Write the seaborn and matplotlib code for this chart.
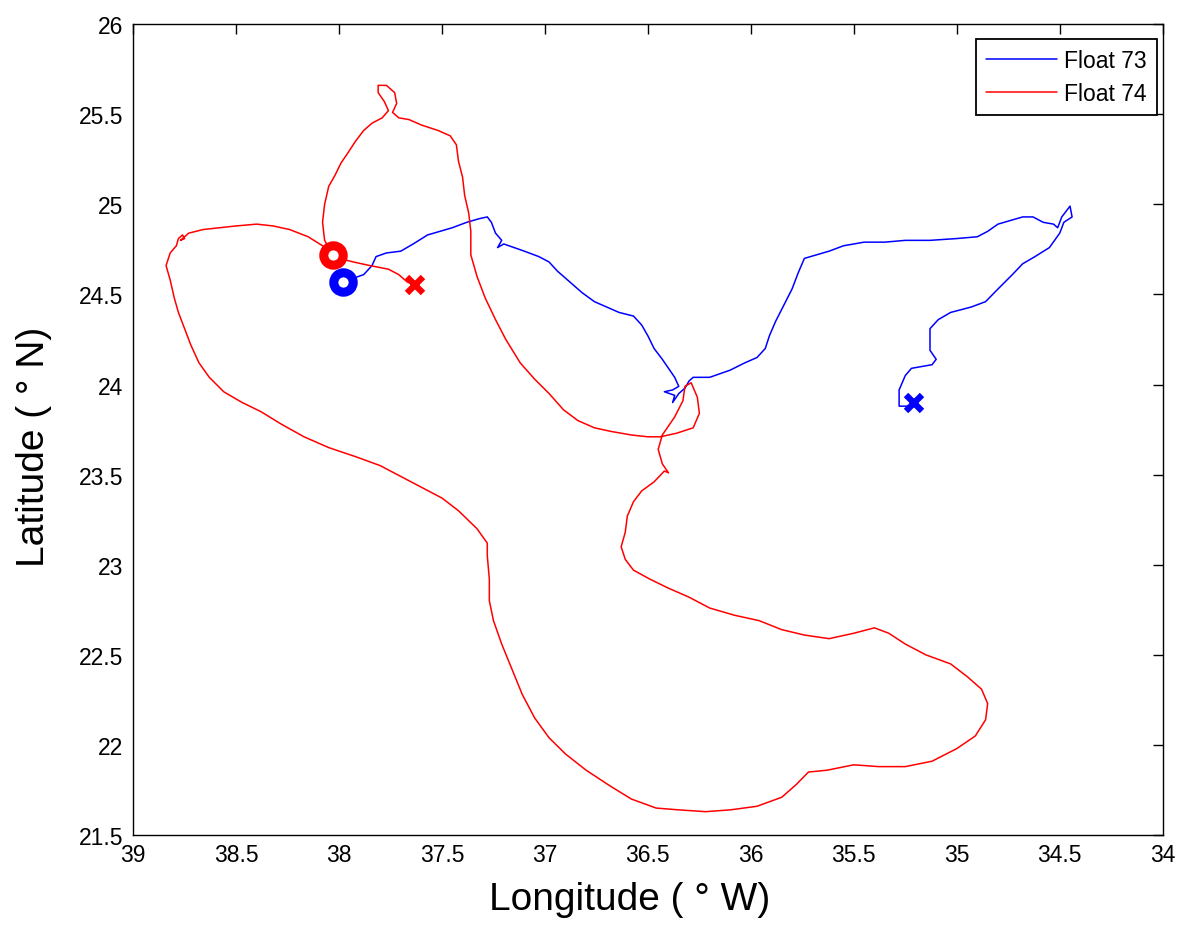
import numpy as np
import pandas as pd
import matplotlib
matplotlib.use("Agg")
import matplotlib.pyplot as plt
import seaborn as sns
from matplotlib.ticker import FuncFormatter

# ---------------- data ----------------
f73_lon = [37.98, 37.93, 37.88, 37.84, 37.82, 37.77, 37.70, 37.64, 37.57, 37.51, 37.45, 37.38,
           37.32, 37.28, 37.26, 37.24, 37.21, 37.23, 37.20, 37.15, 37.10, 37.03, 36.98, 36.94,
           36.88, 36.82, 36.76, 36.70, 36.64, 36.57, 36.53, 36.50, 36.47, 36.43, 36.40, 36.37,
           36.35, 36.38, 36.42, 36.37, 36.38, 36.35, 36.32, 36.30, 36.28, 36.20, 36.15, 36.10,
           36.03, 35.97, 35.93, 35.91, 35.88, 35.84, 35.80, 35.77, 35.74, 35.68, 35.62, 35.55,
           35.45, 35.35, 35.25, 35.13, 35.00, 34.90, 34.85, 34.80, 34.74, 34.68, 34.63, 34.58,
           34.53, 34.51, 34.49, 34.45, 34.44, 34.48, 34.50, 34.55, 34.62, 34.68, 34.73, 34.80,
           34.86, 34.93, 35.03, 35.09, 35.13, 35.13, 35.10, 35.12, 35.22, 35.25, 35.28, 35.28,
           35.23, 35.21]
f73_lat = [24.57, 24.59, 24.61, 24.66, 24.71, 24.73, 24.74, 24.78, 24.83, 24.85, 24.87, 24.90,
           24.92, 24.93, 24.90, 24.84, 24.80, 24.76, 24.78, 24.76, 24.74, 24.71, 24.68, 24.63,
           24.57, 24.51, 24.46, 24.43, 24.40, 24.38, 24.33, 24.27, 24.20, 24.14, 24.09, 24.04,
           23.99, 23.97, 23.96, 23.94, 23.90, 23.95, 23.98, 24.02, 24.04, 24.04, 24.06, 24.08,
           24.12, 24.15, 24.20, 24.27, 24.35, 24.44, 24.53, 24.62, 24.70, 24.72, 24.74, 24.77,
           24.79, 24.79, 24.80, 24.80, 24.81, 24.82, 24.85, 24.89, 24.91, 24.93, 24.93, 24.90,
           24.89, 24.87, 24.93, 24.99, 24.93, 24.90, 24.84, 24.76, 24.71, 24.67, 24.61, 24.53,
           24.46, 24.43, 24.40, 24.36, 24.31, 24.19, 24.14, 24.11, 24.09, 24.05, 23.97, 23.88,
           23.88, 23.90]

f74_lon = [38.03, 38.07, 38.08, 38.07, 38.05, 38.02, 37.99, 37.96, 37.92, 37.88, 37.84, 37.79,
           37.76, 37.78, 37.81, 37.81, 37.77, 37.73, 37.72, 37.74, 37.71, 37.66, 37.60, 37.52,
           37.46, 37.43, 37.42, 37.40, 37.39, 37.37, 37.36, 37.36, 37.33, 37.29, 37.24, 37.19,
           37.12, 37.05, 36.98, 36.91, 36.84, 36.76, 36.68, 36.58, 36.50, 36.44, 36.36, 36.28,
           36.25, 36.26, 36.29, 36.32, 36.33, 36.37, 36.43, 36.45, 36.43, 36.40, 36.42, 36.47,
           36.53, 36.57, 36.60, 36.61, 36.63, 36.61, 36.57, 36.49, 36.40, 36.30, 36.20, 36.08,
           35.96, 35.85, 35.74, 35.62, 35.50, 35.40, 35.33, 35.25, 35.15, 35.03, 34.95, 34.88,
           34.85, 34.86, 34.91, 35.00, 35.12, 35.25, 35.38, 35.50, 35.63, 35.72, 35.78, 35.85,
           35.97, 36.10, 36.22, 36.35, 36.46, 36.58, 36.68, 36.80, 36.90, 36.98, 37.05, 37.11,
           37.16, 37.21, 37.25, 37.27, 37.27, 37.28, 37.28, 37.33, 37.42, 37.50, 37.60, 37.70,
           37.80, 37.92, 38.05, 38.17, 38.28, 38.38, 38.47, 38.56, 38.63, 38.68, 38.72, 38.75,
           38.78, 38.80, 38.82, 38.84, 38.82, 38.79, 38.78, 38.76, 38.75, 38.77, 38.73, 38.66,
           38.58, 38.50, 38.40, 38.32, 38.24, 38.15, 38.08, 38.00, 37.93, 37.85, 37.76, 37.71,
           37.67, 37.63]
f74_lat = [24.72, 24.80, 24.90, 25.00, 25.10, 25.16, 25.23, 25.28, 25.35, 25.41, 25.45, 25.48,
           25.52, 25.57, 25.62, 25.66, 25.66, 25.62, 25.56, 25.51, 25.48, 25.47, 25.44, 25.41,
           25.38, 25.33, 25.24, 25.15, 25.05, 24.95, 24.85, 24.72, 24.60, 24.48, 24.36, 24.25,
           24.12, 24.03, 23.95, 23.86, 23.80, 23.76, 23.74, 23.72, 23.71, 23.71, 23.73, 23.76,
           23.84, 23.93, 24.01, 23.99, 23.91, 23.82, 23.72, 23.64, 23.56, 23.51, 23.52, 23.46,
           23.41, 23.35, 23.27, 23.18, 23.10, 23.03, 22.97, 22.92, 22.87, 22.82, 22.76, 22.72,
           22.69, 22.64, 22.61, 22.59, 22.62, 22.65, 22.62, 22.56, 22.50, 22.45, 22.38, 22.31,
           22.23, 22.14, 22.05, 21.98, 21.91, 21.88, 21.88, 21.89, 21.86, 21.85, 21.78, 21.71,
           21.66, 21.64, 21.63, 21.64, 21.65, 21.70, 21.77, 21.86, 21.95, 22.04, 22.15, 22.28,
           22.42, 22.56, 22.69, 22.80, 22.92, 23.05, 23.12, 23.20, 23.30, 23.37, 23.43, 23.49,
           23.55, 23.60, 23.65, 23.71, 23.78, 23.85, 23.90, 23.96, 24.04, 24.12, 24.22, 24.31,
           24.40, 24.48, 24.58, 24.66, 24.73, 24.77, 24.81, 24.83, 24.81, 24.80, 24.84, 24.86,
           24.87, 24.88, 24.89, 24.88, 24.86, 24.82, 24.77, 24.70, 24.68, 24.66, 24.64, 24.61,
           24.57, 24.55]

series_names = ["Float 73", "Float 74"]
x_ticks = [39, 38.5, 38, 37.5, 37, 36.5, 36, 35.5, 35, 34.5, 34]
y_ticks = [21.5, 22, 22.5, 23, 23.5, 24, 24.5, 25, 25.5, 26]

# ---------------- plot ----------------
sns.set_style("white")
plt.rcParams["font.family"] = ["Liberation Sans", "DejaVu Sans"]
plt.rcParams["text.color"] = "black"
plt.rcParams["axes.labelcolor"] = "black"

fig = plt.figure(figsize=(11.78, 9.29), dpi=100)
ax = fig.add_axes([0.113, 0.100, 0.874, 0.873])

colors = ["#0000ff", "#ff0000"]
paths = [(f73_lon, f73_lat), (f74_lon, f74_lat)]
for (lon, lat), name, c in zip(paths, series_names, colors):
    df = pd.DataFrame({"lon": lon, "lat": lat})
    sns.lineplot(data=df, x="lon", y="lat", sort=False, estimator=None,
                 color=c, linewidth=1.1, ax=ax, label=name)

for (lon, lat), c in zip(paths, colors):
    ax.plot(lon[0], lat[0], marker="o", markersize=14, markerfacecolor="white",
            markeredgecolor=c, markeredgewidth=6.5, linestyle="none", zorder=5)
    ax.plot(lon[-1], lat[-1], marker="x", markersize=12, markeredgecolor=c,
            markeredgewidth=4.5, linestyle="none", zorder=5)

ax.set_xlim(39, 34)
ax.set_ylim(21.5, 26)
ax.set_xticks(x_ticks)
ax.set_yticks(y_ticks)
fmt = FuncFormatter(lambda v, p: "%g" % v)
ax.xaxis.set_major_formatter(fmt)
ax.yaxis.set_major_formatter(fmt)
ax.tick_params(direction="in", length=7, width=1.0, top=True, right=True,
               labelsize=16.5, colors="black")
ax.tick_params(axis="x", pad=6)
ax.tick_params(axis="y", pad=7)
for s in ax.spines.values():
    s.set_color("black")
    s.set_linewidth(1.0)

ax.set_xlabel("Longitude ( \u00b0 W)", fontsize=28)
ax.set_ylabel("Latitude ( \u00b0 N)", fontsize=28)
ax.xaxis.set_label_coords(0.4825, -0.056)
ax.yaxis.set_label_coords(-0.079, 0.48)

leg = ax.legend(loc="upper right", bbox_to_anchor=(0.9942, 0.9815), borderaxespad=0,
                fontsize=16.5, frameon=True, fancybox=False,
                edgecolor="black", framealpha=1, borderpad=0.45, handlelength=3.1,
                handletextpad=0.3, labelspacing=0.4)
leg.get_frame().set_linewidth(1.3)

fig.savefig("out.png", dpi=100)
